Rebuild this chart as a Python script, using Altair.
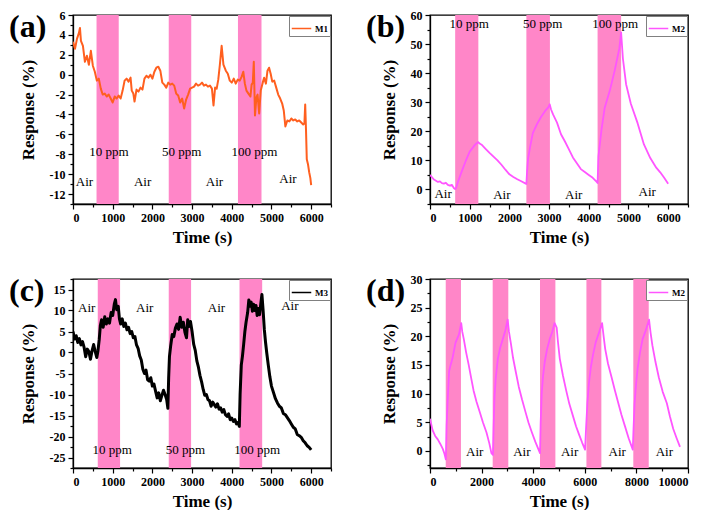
import altair as alt
import pandas as pd

FONT = "Liberation Serif"
PINK = "#FF86C8"

# ---------------- panel (a) : M1 ----------------
a_time = [0, 50, 100, 150, 175, 200, 250, 300, 350, 400,
          450, 500, 550, 600, 650, 700, 750, 800, 850, 900,
          950, 1000, 1050, 1100, 1150, 1200, 1250, 1300, 1350, 1400,
          1450, 1480, 1520, 1550, 1600, 1650, 1700, 1750, 1800, 1850,
          1900, 1950, 2000, 2050, 2100, 2150, 2200, 2250, 2300, 2350,
          2400, 2450, 2500, 2550, 2600, 2650, 2700, 2750, 2800, 2850,
          2900, 2950, 3000, 3050, 3100, 3150, 3200, 3250, 3300, 3350,
          3400, 3450, 3500, 3540, 3580, 3620, 3660, 3700, 3745, 3790,
          3850, 3900, 3950, 4000, 4050, 4100, 4150, 4200, 4250, 4290,
          4330, 4370, 4420, 4470, 4500, 4530, 4555, 4585, 4620, 4650,
          4690, 4730, 4780, 4815, 4860, 4900, 4940, 4980, 5020, 5070,
          5120, 5170, 5220, 5270, 5310, 5350, 5400, 5450, 5500, 5550,
          5600, 5650, 5700, 5750, 5800, 5830, 5850, 5870, 5890, 5920,
          5950, 5980, 6000]
a_resp = [3.3, 2.6, 3.6, 4.2, 4.7, 3.4, 2.9, 1.3, 1.9, 1.0,
          2.4, 0.9, 0.3, -0.6, -0.4, -1.4, -2.0, -1.9, -2.2, -2.0,
          -2.4, -2.8, -2.2, -2.4, -2.1, -2.4, -1.6, -0.6, -0.4, -0.7,
          -0.3, -1.6, -1.9, -2.7, -1.5, -1.7, -1.3, -1.5, -0.4, -0.1,
          -0.3, 0.0, -0.4, 0.3, 0.7, 0.8, 0.4, -0.8, -1.0, -1.3,
          -0.8, -1.0, -0.9, -1.1, -1.9, -2.1, -2.8, -2.4, -3.4, -2.5,
          -2.0, -1.4, -1.3, -1.2, -0.9, -1.1, -1.0, -0.8, -1.1, -1.0,
          -1.2, -1.1, -1.4, -3.1, -1.3, -1.4, -0.5, 1.0, 2.9, 1.0,
          0.4, 0.1, -0.6, -0.8, -0.4, -0.9, -0.5, -0.6, -0.2, 0.3,
          -0.9, -1.6, -1.9, -2.2, -1.0, -0.8, 1.3, -4.1, -2.3, -2.0,
          -3.9, -1.6, -0.8, -0.3, -0.9, 0.4, 0.7, 0.1, -0.7, -0.6,
          -1.3, -2.0, -2.4, -2.9, -3.6, -5.2, -4.6, -4.7, -4.4, -4.6,
          -4.5, -4.7, -4.6, -4.8, -5.0, -4.9, -3.0, -5.5, -8.5, -9.0,
          -9.8, -10.4, -11.1]
a_band_start = [593, 2412, 4156]
a_band_end = [1152, 2979, 4749]
a_ann_x = [290, 905, 1753, 2741, 3564, 4568, 5416]
a_ann_y = [-10.8, -7.75, -10.8, -7.75, -10.8, -7.75, -10.5]
a_ann_text = ["Air", "10 ppm", "Air", "50 ppm", "Air", "100 ppm", "Air"]

# ---------------- panel (b) : M2 ----------------
b_time = [0, 50, 100, 150, 200, 250, 300, 350, 400, 450,
          500, 550, 600, 634, 660, 700, 800, 900, 1000, 1100,
          1150, 1215, 1250, 1300, 1400, 1500, 1600, 1700, 1800, 1900,
          2000, 2100, 2200, 2300, 2400, 2428, 2445, 2470, 2520, 2590,
          2700, 2800, 2900, 2980, 3015, 3050, 3100, 3200, 3300, 3400,
          3500, 3600, 3700, 3800, 3900, 4000, 4100, 4200, 4222, 4245,
          4320, 4400, 4530, 4650, 4770, 4815, 4860, 4940, 5060, 5230,
          5390, 5550, 5700, 5800, 5900, 6000]
b_resp = [5.0, 4.2, 3.4, 3.0, 2.6, 2.8, 2.2, 2.0, 2.3, 1.6,
          1.3, 1.6, 0.5, 0.1, 0.6, 2.5, 6.2, 9.8, 13.0, 14.8,
          15.6, 16.3, 15.8, 15.4, 14.0, 12.6, 11.3, 10.0, 8.5, 6.8,
          5.2, 4.3, 3.5, 2.8, 2.1, 1.9, 6.0, 10.5, 14.5, 19.4,
          22.6, 25.0, 27.0, 28.2, 29.3, 27.5, 25.8, 23.0, 19.0, 16.5,
          13.8, 11.0, 9.0, 7.0, 6.0, 5.0, 4.0, 2.6, 2.2, 11.5,
          20.5, 28.0, 34.0, 40.7, 48.5, 54.0, 45.0, 36.2, 29.5, 22.8,
          15.5, 10.8, 7.5, 5.9, 4.0, 2.0]
b_band_start = [634, 2428, 4222]
b_band_end = [1218, 3021, 4815]
b_ann_x = [329, 988, 1811, 2840, 3621, 4667, 5473]
b_ann_y = [-1.7, 57, -1.9, 57, -1.9, 57, -1.0]
b_ann_text = ["Air", "10 ppm", "Air", "50 ppm", "Air", "100 ppm", "Air"]

# ---------------- panel (c) : M3 ----------------
c_time = [0, 40, 80, 120, 160, 200, 240, 280, 320, 360,
          400, 440, 480, 520, 560, 600, 630, 660, 690, 720,
          760, 800, 840, 880, 920, 960, 1000, 1040, 1070, 1100,
          1140, 1170, 1200, 1240, 1280, 1320, 1360, 1400, 1440, 1480,
          1520, 1560, 1600, 1640, 1680, 1720, 1760, 1800, 1840, 1880,
          1920, 1960, 2000, 2040, 2080, 2120, 2160, 2200, 2240, 2280,
          2320, 2360, 2390, 2410, 2430, 2460, 2500, 2540, 2580, 2620,
          2660, 2700, 2740, 2780, 2820, 2860, 2890, 2920, 2960, 3000,
          3040, 3080, 3120, 3160, 3200, 3240, 3280, 3320, 3360, 3400,
          3440, 3480, 3520, 3560, 3600, 3640, 3680, 3720, 3760, 3800,
          3840, 3880, 3920, 3960, 4000, 4040, 4080, 4120, 4160, 4190,
          4210, 4240, 4270, 4300, 4330, 4360, 4400, 4430, 4460, 4490,
          4520, 4550, 4580, 4610, 4640, 4670, 4700, 4730, 4760, 4790,
          4820, 4850, 4880, 4920, 4960, 5000, 5050, 5100, 5150, 5200,
          5250, 5300, 5350, 5400, 5450, 5500, 5550, 5600, 5650, 5700,
          5750, 5800, 5850, 5900, 5950, 6000]
c_resp = [5.0, 3.2, 4.0, 2.4, 3.3, 1.8, 2.6, 1.2, -1.0, 0.8,
          0.2, -1.6, 0.4, 1.9, 0.2, -1.2, 0.5, 3.0, 6.5, 7.8,
          6.0, 8.5, 6.8, 8.0, 7.0, 9.5, 8.8, 11.5, 12.6, 10.2,
          11.0, 8.0, 6.8, 8.0, 6.2, 7.0, 5.4, 6.0, 4.5, 5.0,
          3.5, 3.8, 1.8, 1.0, -0.8, -1.8, -4.0, -5.0, -4.2, -6.5,
          -6.8, -6.0, -8.0, -7.5, -9.2, -10.8, -9.6, -11.5, -10.2, -9.0,
          -10.0, -11.2, -13.3, -6.0, -1.0, 1.5, 4.3, 3.8, 5.8, 6.8,
          5.5, 8.4, 6.0, 7.2, 4.8, 3.5, 7.8, 6.2, 7.4, 5.0,
          2.0, 0.5, -2.0, -3.5, -5.5, -7.0, -8.8, -10.2, -10.0, -11.2,
          -11.5, -12.8, -11.8, -12.4, -13.0, -12.2, -13.5, -13.2, -14.2, -13.6,
          -14.8, -15.2, -14.6, -16.0, -15.6, -16.4, -16.0, -17.0, -16.6, -17.6,
          -10.0, -3.0, -0.8, 2.0, 5.0, 7.2, 9.5, 12.5, 11.0, 12.0,
          9.8, 11.5, 10.0, 11.2, 8.8, 10.5, 9.0, 11.5, 13.8, 10.0,
          5.5, 2.5, 0.0, -3.0, -5.8, -8.0, -9.5, -11.0, -12.0, -12.8,
          -13.2, -14.5, -14.8, -15.5, -16.2, -17.0, -17.8, -18.2, -19.5, -19.8,
          -20.2, -21.0, -21.5, -22.2, -22.6, -23.2]
c_band_start = [624, 2412, 4195]
c_band_end = [1186, 2975, 4766]
c_ann_x = [345, 986, 1808, 2835, 3615, 4642, 5464]
c_ann_y = [10.5, -23.3, 10.5, -23.3, 10.5, -23.3, 11.0]
c_ann_text = ["Air", "10 ppm", "Air", "50 ppm", "Air", "100 ppm", "Air"]

# ---------------- panel (d) : M2 cycling ----------------
d_time = [0, 100, 200, 300, 400, 500, 560, 615, 645, 680,
          740, 800, 870, 990, 1120, 1210, 1250, 1310, 1400, 1500,
          1600, 1690, 1800, 1940, 2050, 2190, 2300, 2380, 2440, 2465,
          2500, 2550, 2630, 2720, 2820, 2920, 3010, 3060, 3130, 3220,
          3320, 3440, 3570, 3700, 3820, 3950, 4080, 4180, 4264, 4290,
          4330, 4380, 4450, 4540, 4640, 4740, 4830, 4910, 4960, 5030,
          5150, 5280, 5400, 5540, 5660, 5790, 5900, 6010, 6050, 6100,
          6160, 6230, 6320, 6420, 6540, 6670, 6730, 6790, 6900, 7040,
          7170, 7300, 7420, 7550, 7700, 7860, 7890, 7930, 7990, 8050,
          8140, 8240, 8360, 8490, 8550, 8620, 8740, 8870, 9020, 9180,
          9300, 9430, 9560, 9690]
d_resp = [5.6, 3.6, 2.6, 2.0, 1.2, 0.3, -0.5, -1.5, 4.5, 8.3,
          13.9, 15.0, 16.1, 18.9, 20.3, 22.3, 20.8, 19.5, 17.2, 15.0,
          12.6, 10.5, 8.6, 6.6, 5.0, 3.2, 1.3, -0.4, -0.7, 4.0,
          9.4, 12.8, 16.1, 18.0, 19.5, 21.0, 22.9, 20.8, 18.9, 16.2,
          13.9, 11.2, 8.9, 6.8, 4.9, 3.2, 1.6, 0.5, -0.4, 5.0,
          10.0, 13.0, 15.6, 17.8, 19.5, 20.8, 22.3, 21.5, 19.0, 16.1,
          13.2, 10.5, 8.2, 6.1, 4.3, 2.7, 1.4, 0.2, 4.0, 8.3,
          11.8, 14.5, 16.8, 18.9, 20.5, 22.3, 20.0, 17.8, 15.2, 12.8,
          10.5, 8.3, 6.3, 4.4, 2.2, 0.2, 4.0, 8.3, 11.8, 14.5,
          17.2, 19.5, 21.0, 22.9, 20.6, 18.4, 15.5, 12.8, 10.3, 8.3,
          6.0, 3.8, 2.2, 0.7]
d_band_start = [610, 2430, 4264, 6063, 7880]
d_band_end = [1200, 3035, 4860, 6642, 8478]
d_ann_x = [1736, 3560, 5409, 7258, 9082]
d_ann_y = [-0.2, -0.2, -0.2, -0.2, -0.2]
d_ann_text = ["Air", "Air", "Air", "Air", "Air"]


def panel(tag, time, resp, name, color, lw, b_start, b_end, ann_x, ann_y, ann_text,
          xmax, xmajor, xstep, ymin, ymax, ymajor, ystep, w, h):
    xvals = [i * xstep for i in range(int(round(xmax / xstep)) + 1)]
    yvals = [i * ystep for i in range(int(round(ymin / ystep)), int(round(ymax / ystep)) + 1)]
    xs = alt.Scale(domain=[0, xmax], nice=False, zero=False)
    ys = alt.Scale(domain=[ymin, ymax], nice=False, zero=False)
    xaxis = alt.Axis(title="Time (s)", values=xvals,
                     labelExpr=f"datum.value % {xmajor} === 0 ? '' + datum.value : ''",
                     tickSize={"condition": {"test": f"datum.value % {xmajor} === 0", "value": 5}, "value": 3},
                     titlePadding=6, labelPadding=3)
    yaxis = alt.Axis(title="Response (%)", values=yvals,
                     labelExpr=f"datum.value % {ymajor} === 0 ? '' + datum.value : ''",
                     tickSize={"condition": {"test": f"datum.value % {ymajor} === 0", "value": 5}, "value": 3},
                     titlePadding=12, labelPadding=3)

    bands = alt.Chart(pd.DataFrame({"start": b_start, "end": b_end})).mark_rect(
        color=PINK, opacity=1).encode(
        x=alt.X("start:Q", scale=xs, axis=xaxis), x2="end:Q")

    df = pd.DataFrame({"time": time, "resp": resp, "series": [name] * len(time)})
    line = alt.Chart(df).mark_line(strokeWidth=lw, clip=True, strokeJoin="round").encode(
        x=alt.X("time:Q", scale=xs, axis=xaxis),
        y=alt.Y("resp:Q", scale=ys, axis=yaxis),
        color=alt.Color("series:N", scale=alt.Scale(domain=[name], range=[color]),
                        legend=alt.Legend(title=None, orient="top-right", offset=1, padding=2,
                                          strokeColor="#808080", fillColor="white",
                                          symbolType="stroke", symbolSize=380, symbolStrokeWidth=1.5,
                                          labelFont=FONT, labelFontWeight="bold", labelFontSize=9,
                                          labelColor="black", labelOffset=3, cornerRadius=0)))

    ann = alt.Chart(pd.DataFrame({"x": ann_x, "y": ann_y, "t": ann_text})).mark_text(
        font=FONT, fontSize=13, color="black", baseline="middle").encode(
        x=alt.X("x:Q", scale=xs, axis=xaxis),
        y=alt.Y("y:Q", scale=ys, axis=yaxis),
        text="t:N")

    lab = alt.Chart(pd.DataFrame({"tag": [tag]})).mark_text(
        font=FONT, fontSize=32, fontWeight="bold", align="left", baseline="middle",
        color="black").encode(x=alt.value(-64), y=alt.value(12), text="tag:N")

    return alt.layer(bands, line, ann, lab).properties(width=w, height=h)


W, H = 258, 189
pa = panel("(a)", a_time, a_resp, "M1", "#FF5F1F", 2.0, a_band_start, a_band_end,
           a_ann_x, a_ann_y, a_ann_text, 6500, 1000, 500, -13, 6, 2, 1, W, H)
pb = panel("(b)", b_time, b_resp, "M2", "#FF55FF", 1.8, b_band_start, b_band_end,
           b_ann_x, b_ann_y, b_ann_text, 6500, 1000, 500, -5, 60, 10, 5, W, H)
pc = panel("(c)", c_time, c_resp, "M3", "#000000", 3.0, c_band_start, c_band_end,
           c_ann_x, c_ann_y, c_ann_text, 6500, 1000, 500, -27.5, 17.5, 5, 2.5, W, H)
pd_ = panel("(d)", d_time, d_resp, "M2", "#FF55FF", 1.8, d_band_start, d_band_end,
            d_ann_x, d_ann_y, d_ann_text, 10000, 2000, 1000, -3, 30, 5, 2.5, W, H)

top = alt.hconcat(pa, pb, spacing=32).resolve_scale(color="independent")
bottom = alt.hconcat(pc, pd_, spacing=32).resolve_scale(color="independent")

chart = alt.vconcat(top, bottom, spacing=26).resolve_scale(color="independent").properties(
    padding=0
).configure_axis(
    labelFont=FONT, labelFontWeight="bold", labelFontSize=12, labelColor="black",
    titleFont=FONT, titleFontWeight="bold", titleFontSize=17, titleColor="black",
    domainColor="black", domainWidth=1.3, tickColor="black", tickWidth=1.2, grid=False
).configure_view(stroke="black", strokeWidth=1.3)

chart.save("out.html", embed_options={"renderer": "svg", "actions": False})
